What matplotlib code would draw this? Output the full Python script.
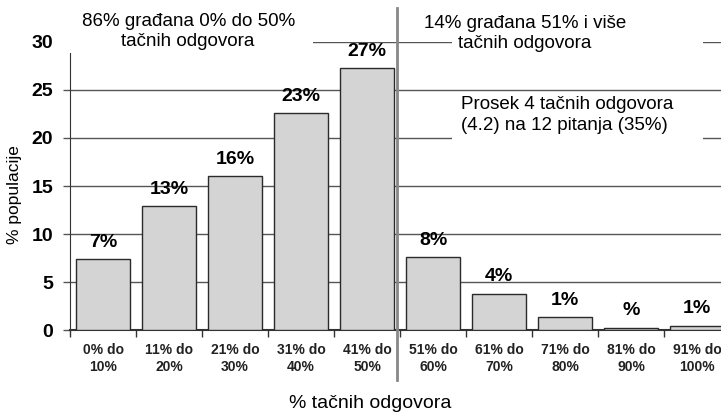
import numpy as np
import matplotlib
matplotlib.use('Agg')
import matplotlib.pyplot as plt
from matplotlib.patches import Rectangle

# ── Data ──────────────────────────────────────────────────────
categories = ['0% do\n10%', '11% do\n20%', '21% do\n30%', '31% do\n40%', '41% do\n50%',
              '51% do\n60%', '61% do\n70%', '71% do\n80%', '81% do\n90%', '91% do\n100%']
values = [7.4, 12.9, 16.0, 22.6, 27.3, 7.6, 3.8, 1.35, 0.25, 0.45]
bar_labels = ['7%', '13%', '16%', '23%', '27%', '8%', '4%', '1%', '%', '1%']
yticks = [0, 5, 10, 15, 20, 25, 30]

plt.rcParams['font.family'] = ['Liberation Sans', 'DejaVu Sans']

fig = plt.figure(figsize=(7.21, 4.17), dpi=100)
ax = fig.add_axes([0.0971, 0.2086, 0.9154, 0.6907])

x = np.arange(len(values))
ax.bar(x, values, width=0.82, color='#d4d4d4', edgecolor='#2a2a2a', linewidth=1, zorder=3)

for xi, v, lab in zip(x, values, bar_labels):
    ax.annotate(lab, (xi, v), xytext=(0, 6), textcoords='offset points',
                ha='center', va='bottom', fontsize=14, fontweight='bold', zorder=5)

ax.set_xlim(-0.5, len(values) - 0.5)
ax.set_ylim(0, 30)
ax.set_yticks(yticks)
ax.set_yticklabels([str(t) for t in yticks], fontsize=14, fontweight='bold')
ax.yaxis.grid(True, color='#555555', linewidth=1, zorder=0)
ax.tick_params(axis='y', length=5, width=1, color='#555555', pad=7)

ax.set_xticks(x)
ax.set_xticklabels(categories, fontsize=10, fontweight='bold', color='#222222',
                   linespacing=1.3)
ax.set_xticks(np.arange(len(values) + 1) - 0.5, minor=True)
ax.tick_params(axis='x', which='major', length=0, pad=9)
ax.tick_params(axis='x', which='minor', length=5, width=1, color='#333333')

for s in ['top', 'right']:
    ax.spines[s].set_visible(False)
ax.spines['left'].set_color('#333333')
ax.spines['bottom'].set_color('#333333')
ax.spines['bottom'].set_linewidth(1.5)

ax.set_ylabel('% populacije', fontsize=12.5)
ax.yaxis.set_label_coords(-0.072, 0.47)
ax.set_xlabel('% tačnih odgovora', fontsize=14)
ax.xaxis.set_label_coords(0.455, -0.225)

# divider between the two halves
ax.axvline(4.45, ymin=-0.174, ymax=1.118, color='#888888', linewidth=2,
           clip_on=False, zorder=4)

# white areas behind the annotation texts (they hide the gridlines)
for (x0, y0, w, h) in [(-0.62, 28.9, 3.8, 5.0), (5.29, 29.2, 3.8, 4.0), (5.29, 19.3, 3.8, 5.1)]:
    ax.add_patch(Rectangle((x0, y0), w, h, facecolor='white', edgecolor='none',
                           zorder=4.5, clip_on=False))

ax.text(1.29, 31.1, '86% građana 0% do 50%\ntačnih odgovora', ha='center', va='center',
        fontsize=13.5, linespacing=1.25, zorder=6, clip_on=False)
ax.text(6.39, 30.9, '14% građana 51% i više\ntačnih odgovora', ha='center', va='center',
        fontsize=13.5, linespacing=1.25, zorder=6, clip_on=False)
ax.text(5.42, 22.4, 'Prosek 4 tačnih odgovora\n(4.2) na 12 pitanja (35%)', ha='left', va='center',
        fontsize=13.5, linespacing=1.25, zorder=6)

fig.savefig('out.png', dpi=100)
